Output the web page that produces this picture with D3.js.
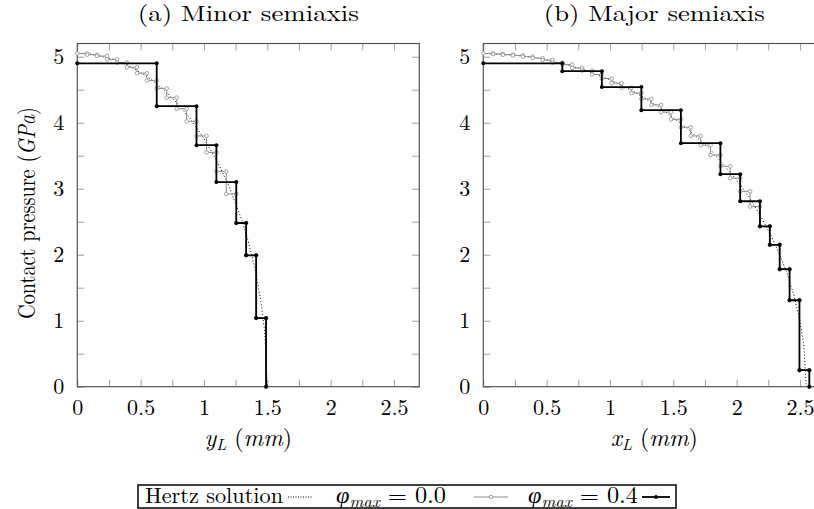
<!DOCTYPE html>
<html>
<head>
<meta charset="utf-8">
<script src="https://cdn.jsdelivr.net/npm/d3@7"></script>
<style>
  body { margin: 0; background: #fff; }
  text { font-family: "Latin Modern Roman", "Liberation Serif", serif; fill: #000; }
</style>
</head>
<body>
<svg id="chart"></svg>
<script>
// element edges (mm) and contact pressure (GPa)
var aGrayEdges = [0, 0.078, 0.157, 0.235, 0.314, 0.392, 0.471, 0.549, 0.627, 0.706, 0.784, 0.863, 0.941, 1.02, 1.098, 1.176, 1.255, 1.333, 1.412, 1.49];
var aGrayVals = [5.05, 5.03, 5.01, 4.96, 4.91, 4.84, 4.75, 4.64, 4.52, 4.38, 4.21, 4.02, 3.80, 3.55, 3.26, 2.92, 2.48, 1.99, 1.04];
var aBlackEdges = [0, 0.627, 0.941, 1.098, 1.255, 1.333, 1.412, 1.49];
var aBlackVals = [4.9, 4.25, 3.66, 3.1, 2.48, 1.99, 1.04];
var aHertzX = [0, 0.1, 0.2, 0.3, 0.4, 0.5, 0.6, 0.7, 0.8, 0.9, 1.0, 1.1, 1.2, 1.3, 1.35, 1.4, 1.45, 1.48, 1.5];
var aHertzP = [5.05, 5.04, 5.0, 4.95, 4.87, 4.76, 4.63, 4.47, 4.27, 4.04, 3.76, 3.43, 3.03, 2.52, 2.2, 1.81, 1.29, 0.82, 0];

var bGrayEdges = [0, 0.078, 0.156, 0.234, 0.312, 0.39, 0.468, 0.546, 0.624, 0.702, 0.78, 0.858, 0.936, 1.014, 1.092, 1.17, 1.248, 1.326, 1.404, 1.482, 1.56, 1.638, 1.716, 1.794, 1.872, 1.95, 2.028, 2.106, 2.184, 2.262, 2.34, 2.418, 2.496, 2.574];
var bGrayVals = [5.05, 5.04, 5.03, 5.02, 5.0, 4.98, 4.95, 4.91, 4.88, 4.83, 4.79, 4.73, 4.67, 4.6, 4.53, 4.45, 4.36, 4.27, 4.16, 4.05, 3.93, 3.8, 3.66, 3.51, 3.34, 3.16, 2.96, 2.73, 2.43, 2.15, 1.78, 1.31, 0.25];
var bBlackEdges = [0, 0.624, 0.936, 1.248, 1.56, 1.872, 2.028, 2.184, 2.262, 2.34, 2.418, 2.496, 2.574];
var bBlackVals = [4.9, 4.78, 4.54, 4.19, 3.69, 3.22, 2.81, 2.43, 2.15, 1.78, 1.31, 0.25];
var bHertzX = [0, 0.2, 0.4, 0.6, 0.8, 1.0, 1.2, 1.4, 1.6, 1.8, 2.0, 2.1, 2.2, 2.3, 2.4, 2.45, 2.5, 2.53, 2.55];
var bHertzP = [5.05, 5.03, 4.99, 4.91, 4.8, 4.65, 4.46, 4.22, 3.93, 3.58, 3.13, 2.87, 2.55, 2.18, 1.71, 1.4, 1.0, 0.63, 0];

var xTicks = [0, 0.25, 0.5, 0.75, 1, 1.25, 1.5, 1.75, 2, 2.25, 2.5];
var yTicks = [0, 0.5, 1, 1.5, 2, 2.5, 3, 3.5, 4, 4.5, 5];

var width = 814, height = 509;
var svg = d3.select("#chart").attr("width", width).attr("height", height);

var plotTop = 43.5, plotBottom = 386.7, panelW = 342;

// step function -> list of corner points, ends on the x axis
function stepPoints(edges, vals) {
    var pts = [];
    vals.forEach((v, i) => {
        pts.push([edges[i], v]);
        pts.push([edges[i + 1], v]);
    });
    pts.push([edges[edges.length - 1], 0]);
    return pts;
}

function drawPanel(left, title, xName, grayE, grayV, blackE, blackV, hx, hp) {
    var x = d3.scaleLinear().domain([0, 2.7]).range([left, left + panelW]);
    var y = d3.scaleLinear().domain([0, 5.2]).range([plotBottom, plotTop]);
    var g = svg.append("g");

    var fmt = d => (Math.abs(d * 2 - Math.round(d * 2)) < 1e-6 ? d3.format("")(d) : "");

    var axB = g.append("g").attr("transform", `translate(0,${plotBottom})`)
        .call(d3.axisBottom(x).tickValues(xTicks).tickFormat(fmt).tickSizeInner(-7).tickSizeOuter(0).tickPadding(13));
    var axT = g.append("g").attr("transform", `translate(0,${plotTop})`)
        .call(d3.axisTop(x).tickValues(xTicks).tickFormat("").tickSizeInner(-7).tickSizeOuter(0));
    var axL = g.append("g").attr("transform", `translate(${left},0)`)
        .call(d3.axisLeft(y).tickValues(yTicks).tickFormat(d => (d % 1 === 0 ? d : "")).tickSizeInner(-7).tickSizeOuter(0).tickPadding(13));
    var axR = g.append("g").attr("transform", `translate(${left + panelW},0)`)
        .call(d3.axisRight(y).tickValues(yTicks).tickFormat("").tickSizeInner(-7).tickSizeOuter(0));

    [axB, axT, axL, axR].forEach(a => {
        a.select(".domain").remove();
        a.selectAll(".tick line").attr("stroke", "#a0a0a0").attr("stroke-width", 1);
        a.selectAll(".tick text").attr("font-size", 22).attr("font-family", "Latin Modern Roman, Liberation Serif, serif");
    });
    axB.selectAll(".tick text").attr("dy", "0.71em");

    g.append("rect").attr("x", left).attr("y", plotTop).attr("width", panelW).attr("height", plotBottom - plotTop)
        .attr("fill", "none").attr("stroke", "#555").attr("stroke-width", 1.2);

    var line = d3.line().x(d => x(d[0])).y(d => y(d[1]));

    // Hertz solution
    g.append("path").datum(d3.zip(hx, hp)).attr("d", line)
        .attr("fill", "none").attr("stroke", "#000").attr("stroke-width", 1).attr("stroke-dasharray", "1,2.2");

    // phi_max = 0.0
    var gp = stepPoints(grayE, grayV);
    g.append("path").datum(gp).attr("d", line)
        .attr("fill", "none").attr("stroke", "#8c8c8c").attr("stroke-width", 1);
    g.selectAll(".gm").data(gp).enter().append("circle")
        .attr("cx", d => x(d[0])).attr("cy", d => y(d[1])).attr("r", 1.8)
        .attr("fill", "#fff").attr("stroke", "#8c8c8c").attr("stroke-width", 0.8);

    // phi_max = 0.4
    var bp = stepPoints(blackE, blackV);
    g.append("path").datum(bp).attr("d", line)
        .attr("fill", "none").attr("stroke", "#000").attr("stroke-width", 1.8);
    g.selectAll(".bm").data(bp).enter().append("circle")
        .attr("cx", d => x(d[0])).attr("cy", d => y(d[1])).attr("r", 2)
        .attr("fill", "#000");

    var cx = left + panelW / 2;
    g.append("text").attr("x", cx).attr("y", 21).attr("text-anchor", "middle")
        .attr("font-size", 22).attr("textLength", 221).attr("lengthAdjust", "spacingAndGlyphs").text(title);

    var xl = g.append("text").attr("x", cx).attr("y", 446).attr("text-anchor", "middle").attr("font-size", 24);
    xl.append("tspan").attr("font-style", "italic").text(xName);
    xl.append("tspan").attr("font-style", "italic").attr("font-size", 16).attr("dy", 4).text("L");
    xl.append("tspan").attr("dy", -4).text(" (");
    xl.append("tspan").attr("font-style", "italic").text("mm");
    xl.append("tspan").text(")");
}

drawPanel(77.3, "(a) Minor semiaxis", "y", aGrayEdges, aGrayVals, aBlackEdges, aBlackVals, aHertzX, aHertzP);
drawPanel(483.3, "(b) Major semiaxis", "x", bGrayEdges, bGrayVals, bBlackEdges, bBlackVals, bHertzX, bHertzP);

// y axis title
var yl = svg.append("text").attr("transform", "translate(35,213) rotate(-90)")
    .attr("text-anchor", "middle").attr("font-size", 24)
    .attr("textLength", 212).attr("lengthAdjust", "spacingAndGlyphs");
yl.append("tspan").text("Contact pressure (");
yl.append("tspan").attr("font-style", "italic").text("GPa");
yl.append("tspan").text(")");

// legend
var lg = svg.append("g");
lg.append("rect").attr("x", 138).attr("y", 485).attr("width", 538).attr("height", 23)
    .attr("fill", "#fff").attr("stroke", "#000").attr("stroke-width", 1.5);

lg.append("text").attr("x", 145).attr("y", 503).attr("font-size", 22)
    .attr("textLength", 138).attr("lengthAdjust", "spacingAndGlyphs").text("Hertz solution");
lg.append("line").attr("x1", 288).attr("x2", 312).attr("y1", 497).attr("y2", 497)
    .attr("stroke", "#000").attr("stroke-width", 1).attr("stroke-dasharray", "1,1.5");

function phiLabel(xPos, val) {
    var t = lg.append("text").attr("x", xPos).attr("y", 503).attr("font-size", 23)
        .attr("textLength", 110).attr("lengthAdjust", "spacingAndGlyphs");
    t.append("tspan").attr("font-style", "italic").text("φ");
    t.append("tspan").attr("font-style", "italic").attr("font-size", 16).attr("dy", 4).text("max");
    t.append("tspan").attr("dy", -4).text(" = " + val);
}
phiLabel(336, "0.0");
lg.append("line").attr("x1", 474).attr("x2", 508).attr("y1", 497).attr("y2", 497)
    .attr("stroke", "#8c8c8c").attr("stroke-width", 1);
lg.append("circle").attr("cx", 491).attr("cy", 497).attr("r", 1.8)
    .attr("fill", "#fff").attr("stroke", "#8c8c8c").attr("stroke-width", 0.8);

phiLabel(528, "0.4");
lg.append("line").attr("x1", 642).attr("x2", 670).attr("y1", 497).attr("y2", 497)
    .attr("stroke", "#000").attr("stroke-width", 1.8);
lg.append("circle").attr("cx", 656).attr("cy", 497).attr("r", 2).attr("fill", "#000");
</script>
</body>
</html>
